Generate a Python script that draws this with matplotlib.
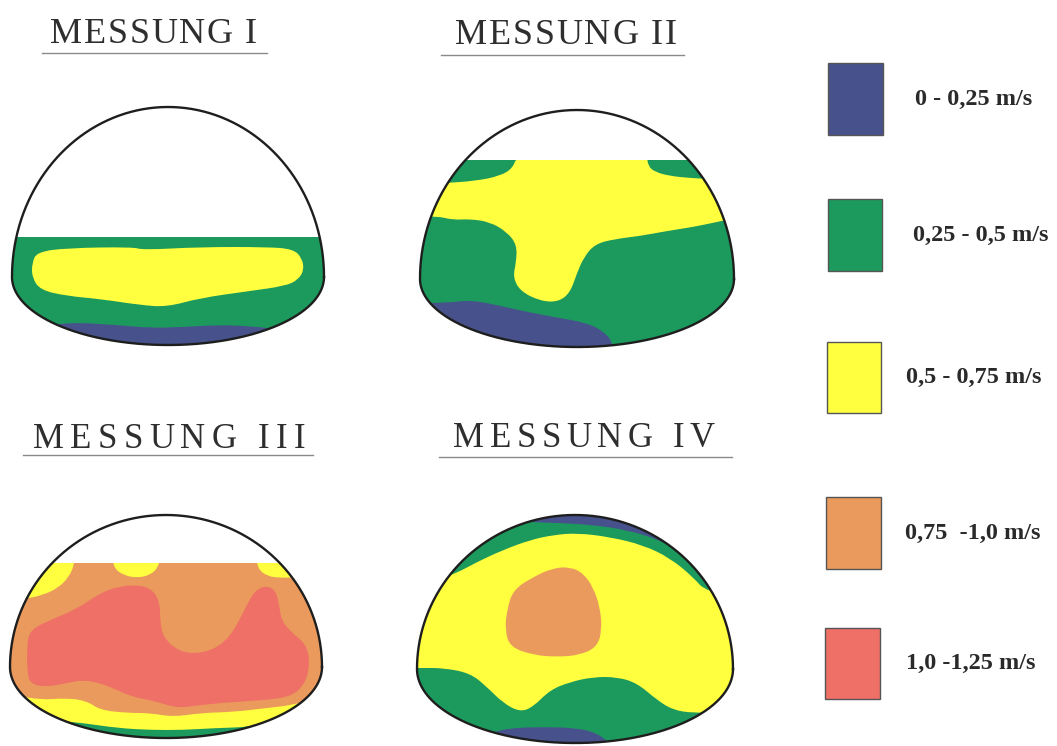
import numpy as np
import matplotlib
matplotlib.use("Agg")
import matplotlib.pyplot as plt
from matplotlib.path import Path
from matplotlib.patches import PathPatch, Rectangle
from matplotlib.textpath import TextToPath
from matplotlib.font_manager import FontProperties

# ---------------- data ----------------
titles = ["MESSUNG I", "MESSUNG II", "MESSUNG III", "MESSUNG IV"]
legend_labels = ["0 - 0,25 m/s", "0,25 - 0,5 m/s", "0,5 - 0,75 m/s",
                 "0,75  -1,0 m/s", "1,0 -1,25 m/s"]
legend_colors = ["#47528c", "#1c9a5d", "#ffff40", "#ea9a5c", "#ef7066"]
# class index: 0 blue, 1 green, 2 yellow, 3 orange, 4 red

# Messung I (water level 237, base class green)
m1_yellow = [(37, 252), (67, 248), (133, 247), (143, 250), (200, 247), (267, 247),
             (293, 249), (302, 258), (304, 270), (298, 280), (285, 286), (250, 291),
             (200, 298), (167, 307), (140, 305), (100, 299), (67, 296), (40, 290),
             (32, 277), (32, 263)]
m1_blue = [(20, 330), (67, 322), (117, 325), (150, 328), (183, 327), (217, 325),
           (250, 326), (283, 330), (305, 335), (340, 345), (340, 400), (20, 400)]

# Messung II (water level 160, base class green)
m2_yellow = [(517, 155), (513, 168), (500, 176), (475, 181), (445, 183), (400, 186),
             (390, 216), (437, 216), (453, 220), (470, 219), (490, 222), (507, 232),
             (517, 245), (516, 263), (513, 277), (520, 291), (540, 301), (558, 302),
             (570, 293), (577, 273), (584, 257), (595, 244), (615, 239), (640, 236),
             (667, 231), (693, 227), (717, 222), (740, 217), (780, 214), (780, 178),
             (710, 179), (690, 178), (670, 176), (655, 172), (648, 166), (647, 155)]
m2_blue = [(400, 303), (447, 303), (470, 300), (497, 305), (527, 312), (560, 318),
           (587, 323), (603, 331), (613, 342), (620, 380), (400, 380)]

# Messung III (water level 563, base class orange)
m3_yellow_tl = [(75, 555), (74, 565), (69, 577), (58, 588), (43, 595), (25, 599),
                (-10, 600), (-10, 555)]
m3_yellow_tm = [(112, 555), (114, 568), (123, 575), (137, 578), (150, 575), (158, 568),
                (161, 555)]
m3_yellow_tr = [(256, 555), (258, 569), (267, 576), (280, 578), (300, 577), (330, 575),
                (330, 555)]
m3_red = [(30, 630), (50, 620), (77, 609), (100, 593), (120, 586), (140, 585),
          (153, 590), (160, 603), (160, 620), (163, 637), (177, 650), (193, 654),
          (213, 650), (230, 637), (243, 613), (253, 593), (263, 586), (274, 588),
          (279, 602), (281, 620), (292, 633), (306, 644), (310, 662), (306, 682),
          (293, 696), (267, 700), (233, 702), (200, 705), (180, 708), (167, 705),
          (150, 700), (133, 697), (117, 690), (100, 683), (83, 680), (67, 683),
          (47, 687), (30, 684), (27, 670), (27, 645)]
m3_yellow_bot = [(-10, 693), (17, 695), (40, 700), (67, 698), (87, 701), (100, 710),
                 (127, 713), (150, 713), (173, 717), (200, 713), (233, 712), (267, 708),
                 (293, 705), (312, 699), (340, 690), (340, 780), (-10, 780)]
m3_green = [(-10, 715), (27, 717), (50, 720), (83, 723), (117, 728), (150, 730),
            (183, 730), (217, 728), (250, 727), (283, 720), (310, 710), (340, 700),
            (340, 790), (-10, 790)]

# Messung IV (full, base class yellow)
m4_green_top = [(400, 592), (453, 575), (477, 562), (503, 550), (530, 540), (553, 535),
                (577, 533), (610, 537), (643, 545), (670, 558), (693, 577), (706, 592),
                (760, 600), (760, 470), (400, 470)]
m4_blue_top = [(480, 520), (527, 522), (560, 523), (593, 525), (627, 530), (660, 540),
               (683, 553), (700, 570), (712, 590), (760, 600), (760, 470), (480, 470)]
m4_orange = [(507, 610), (513, 590), (533, 577), (553, 568), (570, 567), (583, 573),
             (593, 587), (600, 607), (602, 630), (597, 647), (580, 655), (557, 657),
             (533, 655), (510, 647), (505, 630)]
m4_green_bot = [(380, 668), (423, 668), (443, 668), (470, 673), (487, 687), (503, 703),
                (520, 712), (533, 707), (550, 690), (570, 682), (593, 677), (617, 677),
                (637, 683), (657, 700), (673, 710), (693, 713), (717, 712), (732, 707),
                (770, 700), (770, 790), (380, 790)]
m4_blue_bot = [(470, 740), (490, 733), (510, 728), (543, 727), (577, 728), (597, 733),
               (612, 745), (620, 790), (470, 790)]

# tunnel geometry: cx, springline y, half width, upper height, lower depth, water level
tunnels = [
    dict(cx=168, ys=277, w=156, hu=170, hl=68, water=237, base=1,
         regions=[(2, m1_yellow), (0, m1_blue)]),
    dict(cx=577, ys=279, w=157, hu=169, hl=68, water=160, base=1,
         regions=[(2, m2_yellow), (0, m2_blue)]),
    dict(cx=166, ys=667, w=156, hu=152, hl=71, water=563, base=3,
         regions=[(2, m3_yellow_tl), (2, m3_yellow_tm), (2, m3_yellow_tr),
                  (4, m3_red), (2, m3_yellow_bot), (1, m3_green)]),
    dict(cx=575, ys=669, w=158, hu=154, hl=74, water=None, base=2,
         regions=[(1, m4_green_top), (0, m4_blue_top), (3, m4_orange),
                  (1, m4_green_bot), (0, m4_blue_bot)]),
]

title_pos = [  # (x_left, x_right, baseline, underline y, underline x0, x1, size)
    (50, 257, 43, 53, 42, 267, 26),
    (455, 677, 44, 55, 441, 684, 26),
    (33, 305, 448, 455, 23, 313, 25),
    (453, 715, 447, 457, 439, 732, 25),
]
legend_boxes = [(828, 63, 55, 72), (828, 199, 54, 72), (827, 342, 54, 71),
                (826, 497, 55, 72), (825, 628, 55, 71)]
legend_text_x = [915, 913, 906, 905, 906]

# ---------------- helpers ----------------
def smooth_closed(pts):
    P = np.asarray(pts, float)
    n = len(P)
    mids = (P + np.roll(P, -1, axis=0)) / 2.0
    verts = [mids[-1]]
    codes = [Path.MOVETO]
    for i in range(n):
        verts += [P[i], mids[i]]
        codes += [Path.CURVE3, Path.CURVE3]
    verts.append(verts[0])
    codes.append(Path.CLOSEPOLY)
    return Path(verts, codes)


def outline_pts(t, npts=400):
    th_u = np.linspace(0, np.pi, npts)
    xu = t["cx"] + t["w"] * np.cos(th_u)
    yu = t["ys"] - t["hu"] * np.sin(th_u)
    th_l = np.linspace(np.pi, 2 * np.pi, npts)
    xl = t["cx"] + t["w"] * np.cos(th_l)
    yl = t["ys"] - t["hl"] * np.sin(th_l)
    return np.concatenate([xu, xl]), np.concatenate([yu, yl])


# ---------------- figure ----------------
fig = plt.figure(figsize=(10.57, 7.46), dpi=100)
ax = fig.add_axes([0, 0, 1, 1])
ax.set_xlim(0, 1057)
ax.set_ylim(746, 0)
ax.axis("off")

for t in tunnels:
    xo, yo = outline_pts(t)
    if t["water"] is not None:
        fill_path = Path(np.column_stack([xo, np.maximum(yo, t["water"])]))
    else:
        fill_path = Path(np.column_stack([xo, yo]))
    fill_patch = PathPatch(fill_path, facecolor=legend_colors[t["base"]],
                           edgecolor="none", zorder=1)
    ax.add_patch(fill_patch)
    for cls, pts in t["regions"]:
        p = PathPatch(smooth_closed(pts), facecolor=legend_colors[cls],
                      edgecolor="none", zorder=2)
        ax.add_patch(p)
        p.set_clip_path(fill_patch)
    ax.plot(np.append(xo, xo[0]), np.append(yo, yo[0]), color="#1e1e1e",
            lw=1.7, zorder=5, solid_joinstyle="round")

# titles with letter spacing
tp = TextToPath()
px_per_pt = 100 / 72.0
for s, (xl, xr, base, uy, ux0, ux1, size) in zip(titles, title_pos):
    title_prop = FontProperties(family="Liberation Serif", size=size)
    widths = []
    for ch in s:
        w, h, d = tp.get_text_width_height_descent(ch, title_prop, ismath=False)
        widths.append(w * px_per_pt)
    natural = sum(widths)
    track = (xr - xl - natural) / (len(s) - 1)
    x = xl
    for ch, w in zip(s, widths):
        ax.text(x, base, ch, fontproperties=title_prop, color="#2e2e2e",
                ha="left", va="baseline", zorder=6)
        x += w + track
    ax.plot([ux0, ux1], [uy, uy], color="#8a8a8a", lw=1.0, zorder=6)

# legend
for (x, y, w, h), col, lab, tx in zip(legend_boxes, legend_colors, legend_labels,
                                      legend_text_x):
    ax.add_patch(Rectangle((x, y), w, h, facecolor=col, edgecolor="#555555",
                           lw=1.0, zorder=3))
    ax.text(tx, y + h / 2, lab, family="Liberation Serif", weight="bold",
            fontsize=17.5, color="#2a2a2a", ha="left", va="center", zorder=6)

fig.savefig("out.png", dpi=100)
